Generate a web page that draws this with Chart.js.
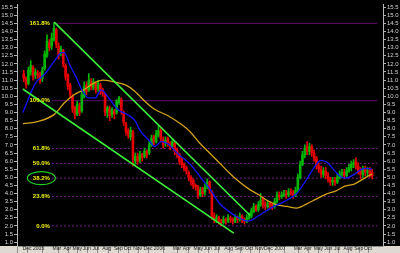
<!DOCTYPE html>
<html>
<head>
<meta charset="utf-8">
<script src="https://cdn.jsdelivr.net/npm/chart.js@4.4.1/dist/chart.umd.min.js"></script>
<style>
  html, body { margin: 0; padding: 0; background: #000; }
  #wrap { width: 400px; height: 253px; }
</style>
</head>
<body>
<div id="wrap"><canvas id="myChart"></canvas></div>
<script>
// weekly candles, Dec 2004 - Oct 2007 (one entry per week)
const open = [11.4,11.1,10.8,11.5,11.8,11.3,11.4,11.3,11.1,11.7,
  12.5,13.3,13.1,13.5,14.1,13.1,12.7,12.8,11.9,11.3,
  10.7,10.0,9.3,8.9,9.4,9.1,10.0,10.7,10.4,10.9,
  10.5,10.8,10.5,10.7,10.4,10.1,9.0,9.2,8.9,9.1,
  9.0,9.6,9.8,9.0,8.3,7.9,7.5,7.8,6.0,6.3,
  6.1,6.4,6.3,6.6,6.5,7.0,7.5,7.2,7.6,7.9,
  7.3,7.1,7.4,7.0,6.9,7.1,6.7,6.4,6.1,5.8,
  5.6,5.3,5.0,4.8,4.5,4.4,3.9,4.3,4.1,4.4,
  4.7,4.1,2.6,2.4,2.5,2.3,2.2,2.4,2.3,2.5,
  2.4,2.3,2.5,2.4,2.6,2.4,2.3,2.5,2.6,2.9,
  3.2,3.0,3.3,3.7,3.3,3.2,3.4,3.3,3.2,3.5,
  3.9,3.8,3.9,4.0,3.9,4.1,4.0,3.9,4.2,5.0,
  5.8,6.4,6.9,6.6,6.9,6.5,6.2,5.7,5.5,5.2,
  5.4,5.1,4.9,4.7,4.8,4.7,5.0,5.2,5.3,5.1,
  5.4,5.6,5.8,6.0,5.7,5.4,5.2,5.5,5.3,5.4,
  5.3];
const high = [11.6,11.2,11.8,12.2,11.9,11.7,11.6,11.5,11.8,12.8,
  13.8,13.5,13.9,14.55,14.2,13.3,13.1,12.9,12.0,11.4,
  10.8,10.1,9.4,9.7,9.6,10.3,10.9,10.9,11.4,11.1,
  11.1,10.9,11.0,10.8,10.5,10.2,9.4,9.4,9.3,9.2,
  9.8,10.0,9.9,9.1,8.4,8.0,8.1,7.9,6.5,6.5,
  6.6,6.5,6.8,6.7,7.2,7.6,7.6,7.9,8.2,8.0,
  7.5,7.5,7.5,7.2,7.4,7.2,6.8,6.5,6.2,5.9,
  5.7,5.4,5.1,4.9,4.6,4.5,4.4,4.4,4.6,4.9,
  4.8,4.2,2.8,2.7,2.6,2.4,2.6,2.5,2.7,2.6,
  2.5,2.7,2.6,2.8,2.7,2.5,2.7,2.8,3.1,3.4,
  3.3,3.5,4.0,3.8,3.5,3.6,3.5,3.4,3.7,4.1,
  4.1,4.1,4.2,4.2,4.3,4.3,4.2,4.4,5.2,6.0,
  6.6,7.0,7.2,7.1,7.0,6.7,6.3,5.9,5.7,5.6,
  5.6,5.3,5.0,5.0,5.0,5.2,5.4,5.5,5.5,5.6,
  5.8,6.0,6.1,6.2,5.9,5.6,5.7,5.7,5.6,5.6,
  5.5];
const low = [10.9,10.5,10.7,11.3,11.0,11.1,11.1,10.8,10.9,11.6,
  12.4,12.8,12.9,13.4,13.0,12.3,12.5,11.8,11.0,10.4,
  9.9,9.0,8.6,8.8,8.8,9.0,9.9,10.1,10.3,10.4,
  10.4,10.2,10.3,10.1,10.0,8.8,8.7,8.5,8.7,8.6,
  8.9,9.5,8.9,8.2,7.6,7.4,7.3,5.7,5.8,5.8,
  5.9,6.0,6.2,6.2,6.4,6.9,7.0,7.1,7.5,7.2,
  6.8,6.9,6.9,6.7,6.8,6.4,6.2,5.8,5.6,5.4,
  5.2,4.8,4.5,4.3,4.2,3.7,3.8,3.8,3.9,4.3,
  4.0,2.4,2.2,2.2,2.1,2.0,2.1,2.1,2.2,2.2,
  2.1,2.2,2.2,2.3,2.2,2.1,2.2,2.4,2.5,2.8,
  2.9,2.9,3.2,3.1,3.0,3.1,3.1,3.0,3.1,3.4,
  3.6,3.7,3.8,3.7,3.8,3.9,3.7,3.8,4.1,4.9,
  5.7,6.2,6.4,6.4,6.3,6.0,5.5,5.3,5.0,5.0,
  4.9,4.7,4.5,4.5,4.5,4.6,4.9,5.0,4.9,5.0,
  5.3,5.4,5.6,5.5,5.2,4.9,5.0,5.1,5.1,5.0,
  4.9];
const close = [11.1,10.7,11.6,11.9,11.2,11.5,11.3,11.0,11.6,12.6,
  13.4,13.0,13.6,14.2,13.2,12.6,12.9,12.0,11.2,10.6,
  10.1,9.2,8.9,9.5,9.0,10.1,10.6,10.3,11.0,10.6,
  10.9,10.4,10.8,10.3,10.2,9.0,9.3,8.8,9.2,8.9,
  9.7,9.9,9.1,8.4,7.8,7.6,7.9,6.1,6.3,6.0,
  6.4,6.2,6.6,6.4,7.0,7.4,7.2,7.7,7.9,7.4,
  7.0,7.3,7.1,6.9,7.2,6.6,6.4,6.0,5.8,5.6,
  5.4,5.0,4.7,4.5,4.4,3.9,4.2,4.0,4.4,4.7,
  4.2,2.6,2.4,2.5,2.3,2.2,2.4,2.3,2.5,2.4,
  2.3,2.5,2.4,2.6,2.4,2.3,2.5,2.6,2.9,3.2,
  3.0,3.3,3.6,3.3,3.2,3.4,3.3,3.2,3.5,3.9,
  3.8,3.9,4.0,3.9,4.1,4.0,3.9,4.2,5.0,5.8,
  6.4,6.8,6.6,6.9,6.5,6.2,5.7,5.5,5.2,5.4,
  5.1,4.9,4.7,4.8,4.7,5.0,5.2,5.3,5.1,5.4,
  5.6,5.8,5.9,5.7,5.4,5.2,5.5,5.3,5.4,5.2,
  5.1];

// moving averages (x in weeks)
const blueWeeks = [-0.4,5,9.2,13.3,16.3,17.5,19.6,22.5,25,27.9,30.8,33.3,37.1,40.4,45.4,47.9,50,53.8,56.3,59.2,62.1,66.3,71.7,75.8,80,84.2,88.3,91.3,96.7,100.8,106.3,112.1,117.5,121.7,125,127.9,130.8,134.2,136.3,138.3,142.5,145.4,147.9,150];
const blueVals = [9.0,10.8,11.4,12.2,12.7,12.7,12.0,11.2,10.4,9.9,9.9,10.4,9.8,9.2,8.8,8.5,7.9,7.3,6.9,7.2,7.06,6.45,5.8,5.06,4.3,3.4,2.9,2.6,2.3,2.6,3.1,3.5,4.0,4.85,5.6,6.05,5.9,5.35,5.05,4.95,5.2,5.5,5.55,5.5];
const yellowWeeks = [-0.4,6.3,13.3,17.5,21.7,25.8,30,34.2,38.3,43.8,47.9,52.1,56.3,62.1,67.5,71.7,75.8,80,84.2,88.3,92.5,96.7,100.8,105,109.2,113.3,117.5,121.7,125.8,130,134.2,138.3,142.5,146.7,150];
const yellowVals = [8.3,8.45,8.9,9.6,10.1,10.4,10.8,11.0,10.9,10.7,10.3,9.7,9.2,8.8,8.3,7.8,7.1,6.5,5.9,5.3,4.75,4.3,3.95,3.55,3.3,3.2,3.1,3.35,3.65,3.95,4.15,4.45,4.6,4.95,5.2];

// trend channel (two lines, start and end)
const upperWeeks = [13.1, 97.5];
const upperVals = [14.58, 2.64];
const lowerWeeks = [-0.43, 90.4];
const lowerVals = [10.45, 1.55];

// fibonacci levels
const fibLabels = ['161.8%','100.0%','61.8%','50.0%','38.2%','23.6%','0.0%'];
const fibLevels = [14.5, 9.73, 6.78, 5.86, 4.95, 3.82, 2.0];
const fibFrom = [13.0, 12.1, 12.1, 12.1, 12.1, 12.1, 12.1];

// axes
const monthPos = [-0.45,4.0,12.4,17.1,21.0,25.4,29.6,33.8,38.8,43.0,47.1,51.6,56.0,64.1,68.5,73.1,77.5,81.8,86.3,90.8,95.4,99.5,103.4,107.9,116.2,120.6,124.8,129.4,133.6,137.7,142.3,146.5];
const monthNames = ['Dec','2005','Mar','Apr','May','Jun','Jul','Aug','Sep','Oct','Nov','Dec','2006','Mar','Apr','May','Jun','Jul','Aug','Sep','Oct','Nov','Dec','2007','Mar','Apr','May','Jun','Jul','Aug','Sep','Oct'];
const yTicks = [1.0,1.5,2.0,2.5,3.0,3.5,4.0,4.5,5.0,5.5,6.0,6.5,7.0,7.5,8.0,8.5,9.0,9.5,10.0,10.5,11.0,11.5,12.0,12.5,13.0,13.5,14.0,14.5,15.0,15.5];

const xMin = -0.45, xMax = 152.2;
const yMin = 0.76, yMax = 15.66;
const circled = 4;

const weeks = open.map((v, i) => i);
const candleColor = open.map((o, i) => close[i] >= o ? '#00b400' : '#e40000');

function pts(xs, ys) {
    return xs.map((x, i) => ({x: x, y: ys[i]}));
}

const backdrop = {
    id: 'backdrop',
    beforeDraw(chart) {
        const {ctx, width, height, chartArea} = chart;
        ctx.save();
        ctx.fillStyle = '#000';
        ctx.fillRect(0, 0, width, height);
        ctx.fillStyle = '#dedad2';
        ctx.fillRect(0, chartArea.bottom, width, height - chartArea.bottom);
        ctx.restore();
    }
};

const fibText = {
    id: 'fibText',
    afterDatasetsDraw(chart) {
        const {ctx, scales} = chart;
        const px = scales.x.getPixelForValue(fibFrom[1]) - 2;
        ctx.save();
        ctx.font = 'bold 6px "Liberation Sans"';
        ctx.fillStyle = '#f4f400';
        ctx.textAlign = 'right';
        ctx.textBaseline = 'middle';
        fibLabels.forEach((t, i) => {
            const py = scales.y.getPixelForValue(fibLevels[i]);
            ctx.fillText(t, px, py);
            if (i === circled) {
                const w = ctx.measureText(t).width;
                ctx.beginPath();
                ctx.ellipse(px - w / 2, py, w / 2 + 5.5, 6.5, 0, 0, Math.PI * 2);
                ctx.strokeStyle = '#22d022';
                ctx.lineWidth = 1.2;
                ctx.stroke();
            }
        });
        ctx.restore();
    }
};

const tickFont = {size: 6, family: 'Liberation Sans'};

function yAxis(pos) {
    return {
        position: pos,
        min: yMin,
        max: yMax,
        afterBuildTicks: s => { s.ticks = yTicks.map(v => ({value: v})); },
        afterFit: s => { s.width = 17; },
        ticks: {
            autoSkip: false,
            color: '#d4d4d4',
            font: tickFont,
            padding: 1,
            callback: v => v.toFixed(1)
        },
        grid: { drawOnChartArea: false, color: '#b0b0b0', tickLength: 3 },
        border: { color: '#b8b8b8' }
    };
}

const myChart = new Chart(document.getElementById('myChart'), {
    type: 'bar',
    data: {
        datasets: [
            ...fibLabels.map((lab, i) => ({
                type: 'line',
                data: [{x: fibFrom[i], y: fibLevels[i]}, {x: xMax, y: fibLevels[i]}],
                borderColor: i < 2 ? '#5e0c6a' : '#7c1a8c',
                borderWidth: 1,
                borderDash: i < 2 ? [] : [2, 2],
                pointRadius: 0,
                order: 10
            })),
            {
                data: weeks.map(i => ({x: i, y: [low[i], high[i]]})),
                backgroundColor: candleColor,
                barThickness: 1,
                grouped: false,
                order: 6
            },
            {
                data: weeks.map(i => ({x: i, y: [open[i], close[i]]})),
                backgroundColor: candleColor,
                barThickness: 2,
                grouped: false,
                order: 5
            },
            {
                type: 'line',
                data: pts(yellowWeeks, yellowVals),
                borderColor: '#d2a21c',
                borderWidth: 1.3,
                pointRadius: 0,
                cubicInterpolationMode: 'monotone',
                order: 3
            },
            {
                type: 'line',
                data: pts(blueWeeks, blueVals),
                borderColor: '#1414ff',
                borderWidth: 1.3,
                pointRadius: 0,
                cubicInterpolationMode: 'monotone',
                order: 2
            },
            {
                type: 'line',
                data: pts(upperWeeks, upperVals),
                borderColor: '#3cf03c',
                borderWidth: 1.6,
                pointRadius: 0,
                order: 1
            },
            {
                type: 'line',
                data: pts(lowerWeeks, lowerVals),
                borderColor: '#3cf03c',
                borderWidth: 1.6,
                pointRadius: 0,
                order: 1
            }
        ]
    },
    options: {
        animation: false,
        responsive: true,
        maintainAspectRatio: false,
        layout: { padding: 0 },
        plugins: {
            legend: { display: false },
            tooltip: { enabled: false }
        },
        scales: {
            x: {
                type: 'linear',
                min: xMin,
                max: xMax,
                afterBuildTicks: s => { s.ticks = monthPos.map(v => ({value: v})); },
                afterFit: s => { s.height = 7; },
                ticks: {
                    autoSkip: false,
                    maxRotation: 0,
                    minRotation: 0,
                    align: 'start',
                    padding: -7,
                    color: '#202020',
                    font: {size: 5, family: 'Liberation Sans'},
                    callback: (v, i) => monthNames[i]
                },
                grid: { drawOnChartArea: false, color: '#8c8c8c', tickLength: 7 },
                border: { color: '#8c8c8c' }
            },
            y: yAxis('left'),
            y2: yAxis('right')
        }
    },
    plugins: [backdrop, fibText]
});
</script>
</body>
</html>
